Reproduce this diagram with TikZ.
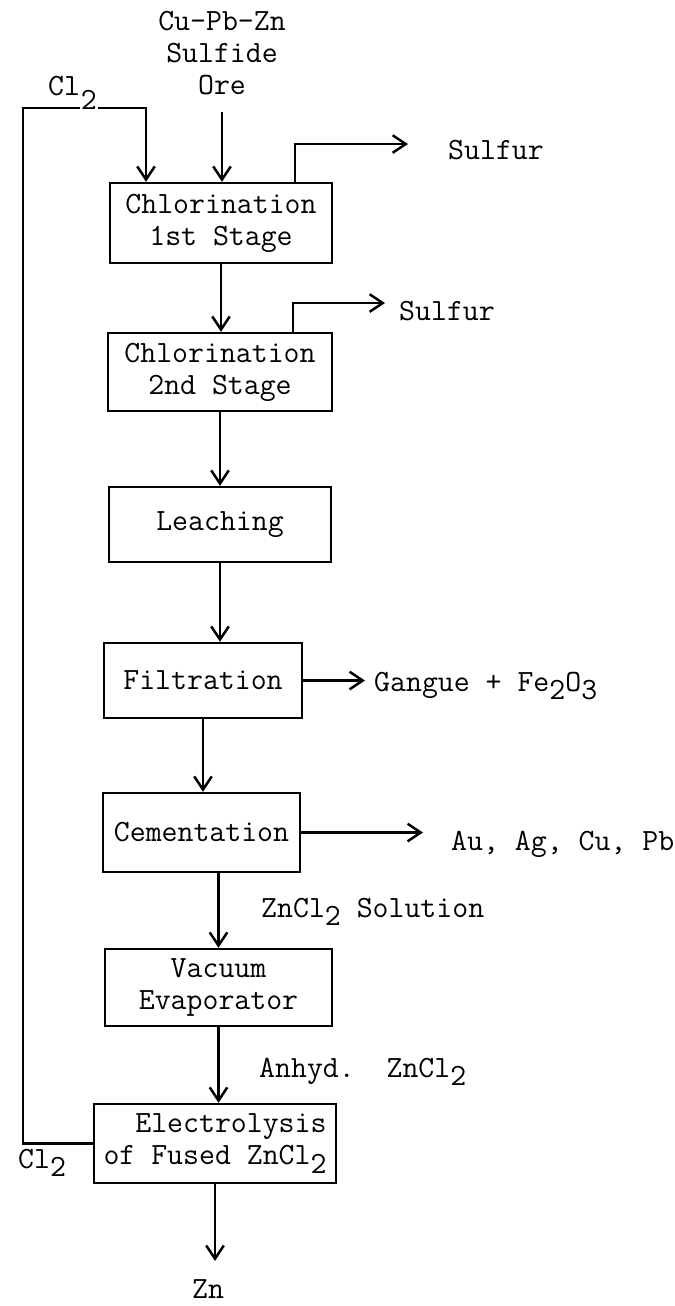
\documentclass[tikz,border=0pt]{standalone}
\usepackage{fontspec}
\usetikzlibrary{arrows.meta}
\newcommand{\dn}[1]{\raisebox{-5pt}{#1}}
\newcommand{\dnw}[1]{\raisebox{-8.5pt}{\setlength{\fboxsep}{0.5pt}\colorbox{white}{#1}}}

\begin{document}
\begin{tikzpicture}[x=0.02cm,y=-0.02cm,line width=1.4pt,
  every node/.style={font=\ttfamily\fontsize{17.6}{18.2}\selectfont,inner sep=0pt},
  box/.style={draw,align=center},
  flow/.style={-{Straight Barb[length=7.5pt,width=10pt]}}]

\useasboundingbox (0,0) rectangle (675,1306);

\node[box,minimum width=4.44cm,minimum height=1.6cm] (chlA) at (221,223) {Chlorination\\1st Stage};
\node[box,minimum width=4.48cm,minimum height=1.56cm] (chlB) at (220,372) {Chlorination\\2nd Stage};
\node[box,minimum width=4.44cm,minimum height=1.5cm] (leach) at (220,524.5) {Leaching};
\node[box,minimum width=3.96cm,minimum height=1.5cm] (filt) at (203,680.5) {Filtration};
\node[box,minimum width=3.94cm,minimum height=1.58cm] (cem) at (201.5,832.5) {Cementation};
\node[box,minimum width=4.54cm,minimum height=1.54cm] (vac) at (218.5,987.5) {Vacuum\\Evaporator};
\node[box,align=right,minimum width=4.84cm,minimum height=1.58cm] (elec) at (215,1143.5) {Electrolysis\\of Fused ZnCl\dn{2}};

\node[align=center] (ore) at (222,53) {Cu-Pb-Zn\\Sulfide\\Ore};
\node[anchor=base west] (sulA) at (447,159) {Sulfur};
\node[anchor=base west] (sulB) at (398,320) {Sulfur};
\node[anchor=base west] (gang) at (373,691) {Gangue + Fe\dn{2}O\dn{3}};
\node[anchor=base west] (metals) at (450,850) {Au, Ag, Cu, Pb};
\node[anchor=base west] (soln) at (260,917) {ZnCl\dn{2} Solution};
\node[anchor=base west] (anhyd) at (258,1077) {Anhyd.\ \ ZnCl\dn{2}};
\node[anchor=base] (zn) at (208,1298) {Zn};
\node[anchor=base west] (clB) at (17,1168) {Cl\dn{2}};

\coordinate (loopL) at (23,108);
\coordinate (loopR) at (146,108);
\coordinate (sA) at (295,144);
\coordinate (sB) at (293,303);

\draw[flow] (elec.west) -| (loopL) -- (loopR) -- (loopR |- chlA.north);
\node[anchor=base west] (clA) at (47,95) {Cl\dnw{2}};

\draw[flow,shorten <=0.32cm] (ore.south) -- (ore.south |- chlA.north);
\draw[flow,shorten >=0.78cm] (chlA.north -| sA) -- (sA) -- (sA -| sulA.west);
\draw[flow,shorten >=0.26cm] (chlB.north -| sB) -- (sB) -- (sB -| sulB.west);

\draw[flow] (chlA.south) -- (chlA.south |- chlB.north);
\draw[flow] (chlB.south) -- (chlB.south |- leach.north);
\draw[flow] (leach.south) -- (leach.south |- filt.north);
\draw[flow] (filt.south) -- (filt.south |- cem.north);
\draw[flow] (cem.south -| vac.north) -- (vac.north);
\draw[flow] (vac.south) -- (vac.south |- elec.north);
\draw[flow,shorten >=0.34cm] (elec.south) -- (elec.south |- zn.north);

\draw[flow,shorten >=0.16cm] (filt.east) -- (filt.east -| gang.west);
\draw[flow,shorten >=0.54cm] (cem.east) -- (cem.east -| metals.west);

\end{tikzpicture}
\end{document}
